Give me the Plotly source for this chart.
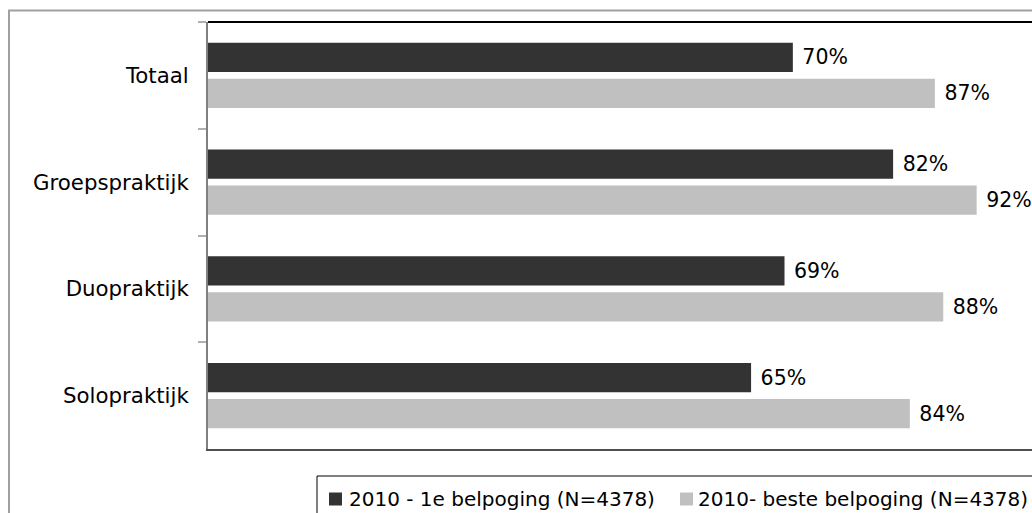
import plotly.graph_objects as go

categories = ["Totaal", "Groepspraktijk", "Duopraktijk", "Solopraktijk"]
series_names = ["2010 - 1e belpoging (N=4378)", "2010- beste belpoging (N=4378)"]
first_attempt = [0.70, 0.82, 0.69, 0.65]
best_attempt = [0.87, 0.92, 0.88, 0.84]
colors = ["#333333", "#c0c0c0"]

W, H = 1032, 513
ML, MR, MT, MB = 208, 0, 22, 64
PW, PH = W - ML - MR, H - MT - MB
FONT = "DejaVu Sans"
FS = 20.5


def px_x(sx):
    return (sx - ML) / PW


def px_y(sy):
    return (H - MB - sy) / PH


fig = go.Figure()
for name, vals, col in zip(series_names, [first_attempt, best_attempt], colors):
    fig.add_trace(go.Bar(
        y=categories, x=vals, name=name, orientation="h",
        marker=dict(color=col, line=dict(width=0)),
        texttemplate="\u00a0%{x:.0%}", textposition="outside",
        textfont=dict(family=FONT, size=FS, color="#000000"),
        cliponaxis=False, constraintext="none", showlegend=False,
    ))

shapes = [
    # outer chart border
    dict(type="rect", xref="paper", yref="paper",
         x0=px_x(9), x1=px_x(1060), y0=px_y(10.5), y1=px_y(540),
         line=dict(color="#a0a0a0", width=2), layer="below"),
    # top plot border
    dict(type="line", xref="paper", yref="paper", x0=0, x1=1.05, y0=1, y1=1,
         line=dict(color="#000000", width=2)),
    # legend box
    dict(type="rect", xref="paper", yref="paper",
         x0=px_x(317), x1=px_x(1060), y0=px_y(476), y1=px_y(540),
         line=dict(color="#000000", width=1), fillcolor="white"),
]
annotations = []
legend_items = [(329, 347), (680, 696)]
for (sx, tx), name, col in zip(legend_items, series_names, colors):
    shapes.append(dict(type="rect", xref="paper", yref="paper",
                       x0=px_x(sx), x1=px_x(sx + 13), y0=px_y(492.5), y1=px_y(505.5),
                       line=dict(width=0), fillcolor=col))
    annotations.append(dict(xref="paper", yref="paper", x=px_x(tx), y=px_y(499),
                            xanchor="left", yanchor="middle", text=name, showarrow=False,
                            font=dict(family=FONT, size=20, color="#000000")))

fig.update_layout(
    width=W, height=H,
    margin=dict(l=ML, r=MR, t=MT, b=MB, autoexpand=False),
    paper_bgcolor="white", plot_bgcolor="white",
    barmode="group", bargap=0.3255, bargroupgap=0.194,
    font=dict(family=FONT, size=FS, color="#000000"),
    shapes=shapes, annotations=annotations,
    xaxis=dict(range=[0, PW / 835.5], showgrid=False, zeroline=False,
               showticklabels=False, ticks="", showline=True,
               linecolor="#505050", linewidth=2),
    yaxis=dict(autorange="reversed", showgrid=False, zeroline=False,
               showline=True, linecolor="#808080", linewidth=2,
               ticks="outside", tickson="boundaries", ticklen=8,
               tickcolor="#b0b0b0", tickwidth=2, ticklabelstandoff=13,
               tickfont=dict(family=FONT, size=21.3, color="#000000")),
)

fig.write_html(
    "out.html",
    config={"displayModeBar": False},
    post_script="document.body.style.margin='0';document.body.style.overflow='hidden';",
)
